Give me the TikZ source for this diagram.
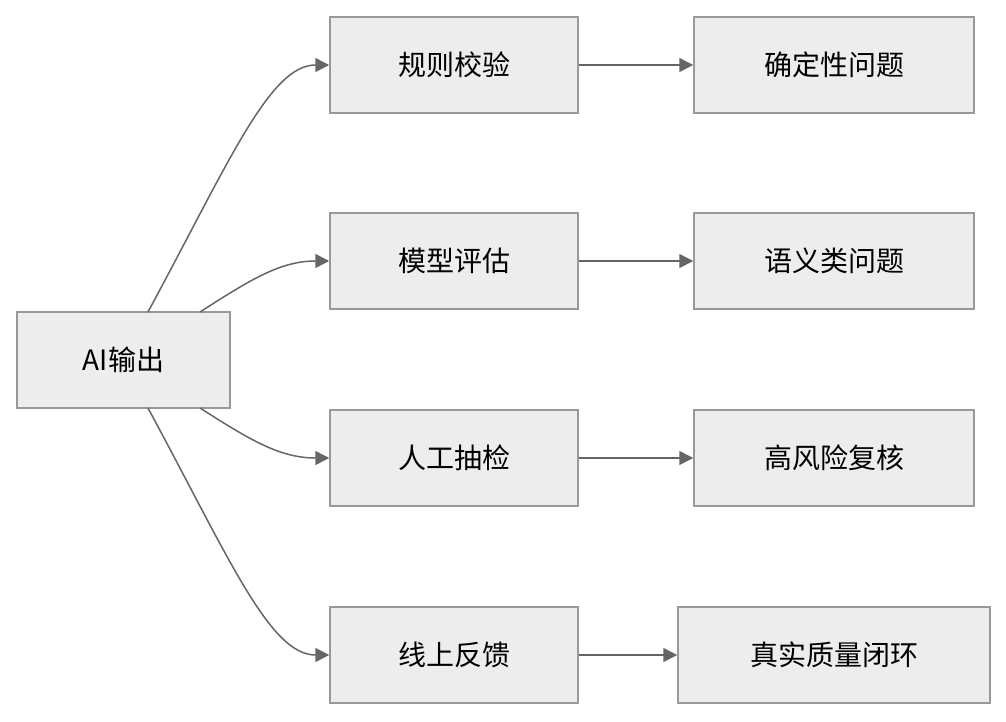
\documentclass[tikz,border=0pt]{standalone}
\usepackage{fontspec}
\setmainfont{Noto Sans CJK SC}
\usetikzlibrary{arrows.meta,positioning}
\tikzset{
  box/.style={draw=black!40, line width=1.5pt, fill=black!7, minimum height=96pt, inner sep=0pt, font=\fontsize{28}{32}\selectfont},
  flow/.style={draw=black!60, line width=1.5pt, -{Triangle[length=14pt,width=14pt]}}
}
\begin{document}
\begin{tikzpicture}[x=1pt,y=-1pt]
\useasboundingbox (0,0) rectangle (1006,722);
\node[box, minimum width=213pt] (ai) at (123.5,360) {AI输出};
\node[box, minimum width=248pt] (rule)  at (454,65)  {规则校验};
\node[box, minimum width=248pt] (model) at (454,261) {模型评估};
\node[box, minimum width=248pt] (human) at (454,458) {人工抽检};
\node[box, minimum width=248pt] (online) at (454,655) {线上反馈};
\node[box, minimum width=280pt] (det)  at (834,65)  {确定性问题};
\node[box, minimum width=280pt] (sem)  at (834,261) {语义类问题};
\node[box, minimum width=280pt] (risk) at (834,458) {高风险复核};
\node[box, minimum width=312pt] (loop) at (834,655) {真实质量闭环};
\coordinate (aiA) at (148,312);
\coordinate (aiB) at (200,312);
\coordinate (aiC) at (200,408);
\coordinate (aiD) at (148,408);
% fan out
\draw[flow] (aiA) .. controls (230,160) and (270,65) .. (rule.west);
\draw[flow] (aiB) .. controls (250,280) and (280,261) .. (model.west);
\draw[flow] (aiC) .. controls (250,440) and (280,458) .. (human.west);
\draw[flow] (aiD) .. controls (230,560) and (270,655) .. (online.west);
% results
\draw[flow] (rule) -- (det);
\draw[flow] (model) -- (sem);
\draw[flow] (human) -- (risk);
\draw[flow] (online) -- (loop);
\end{tikzpicture}
\end{document}
